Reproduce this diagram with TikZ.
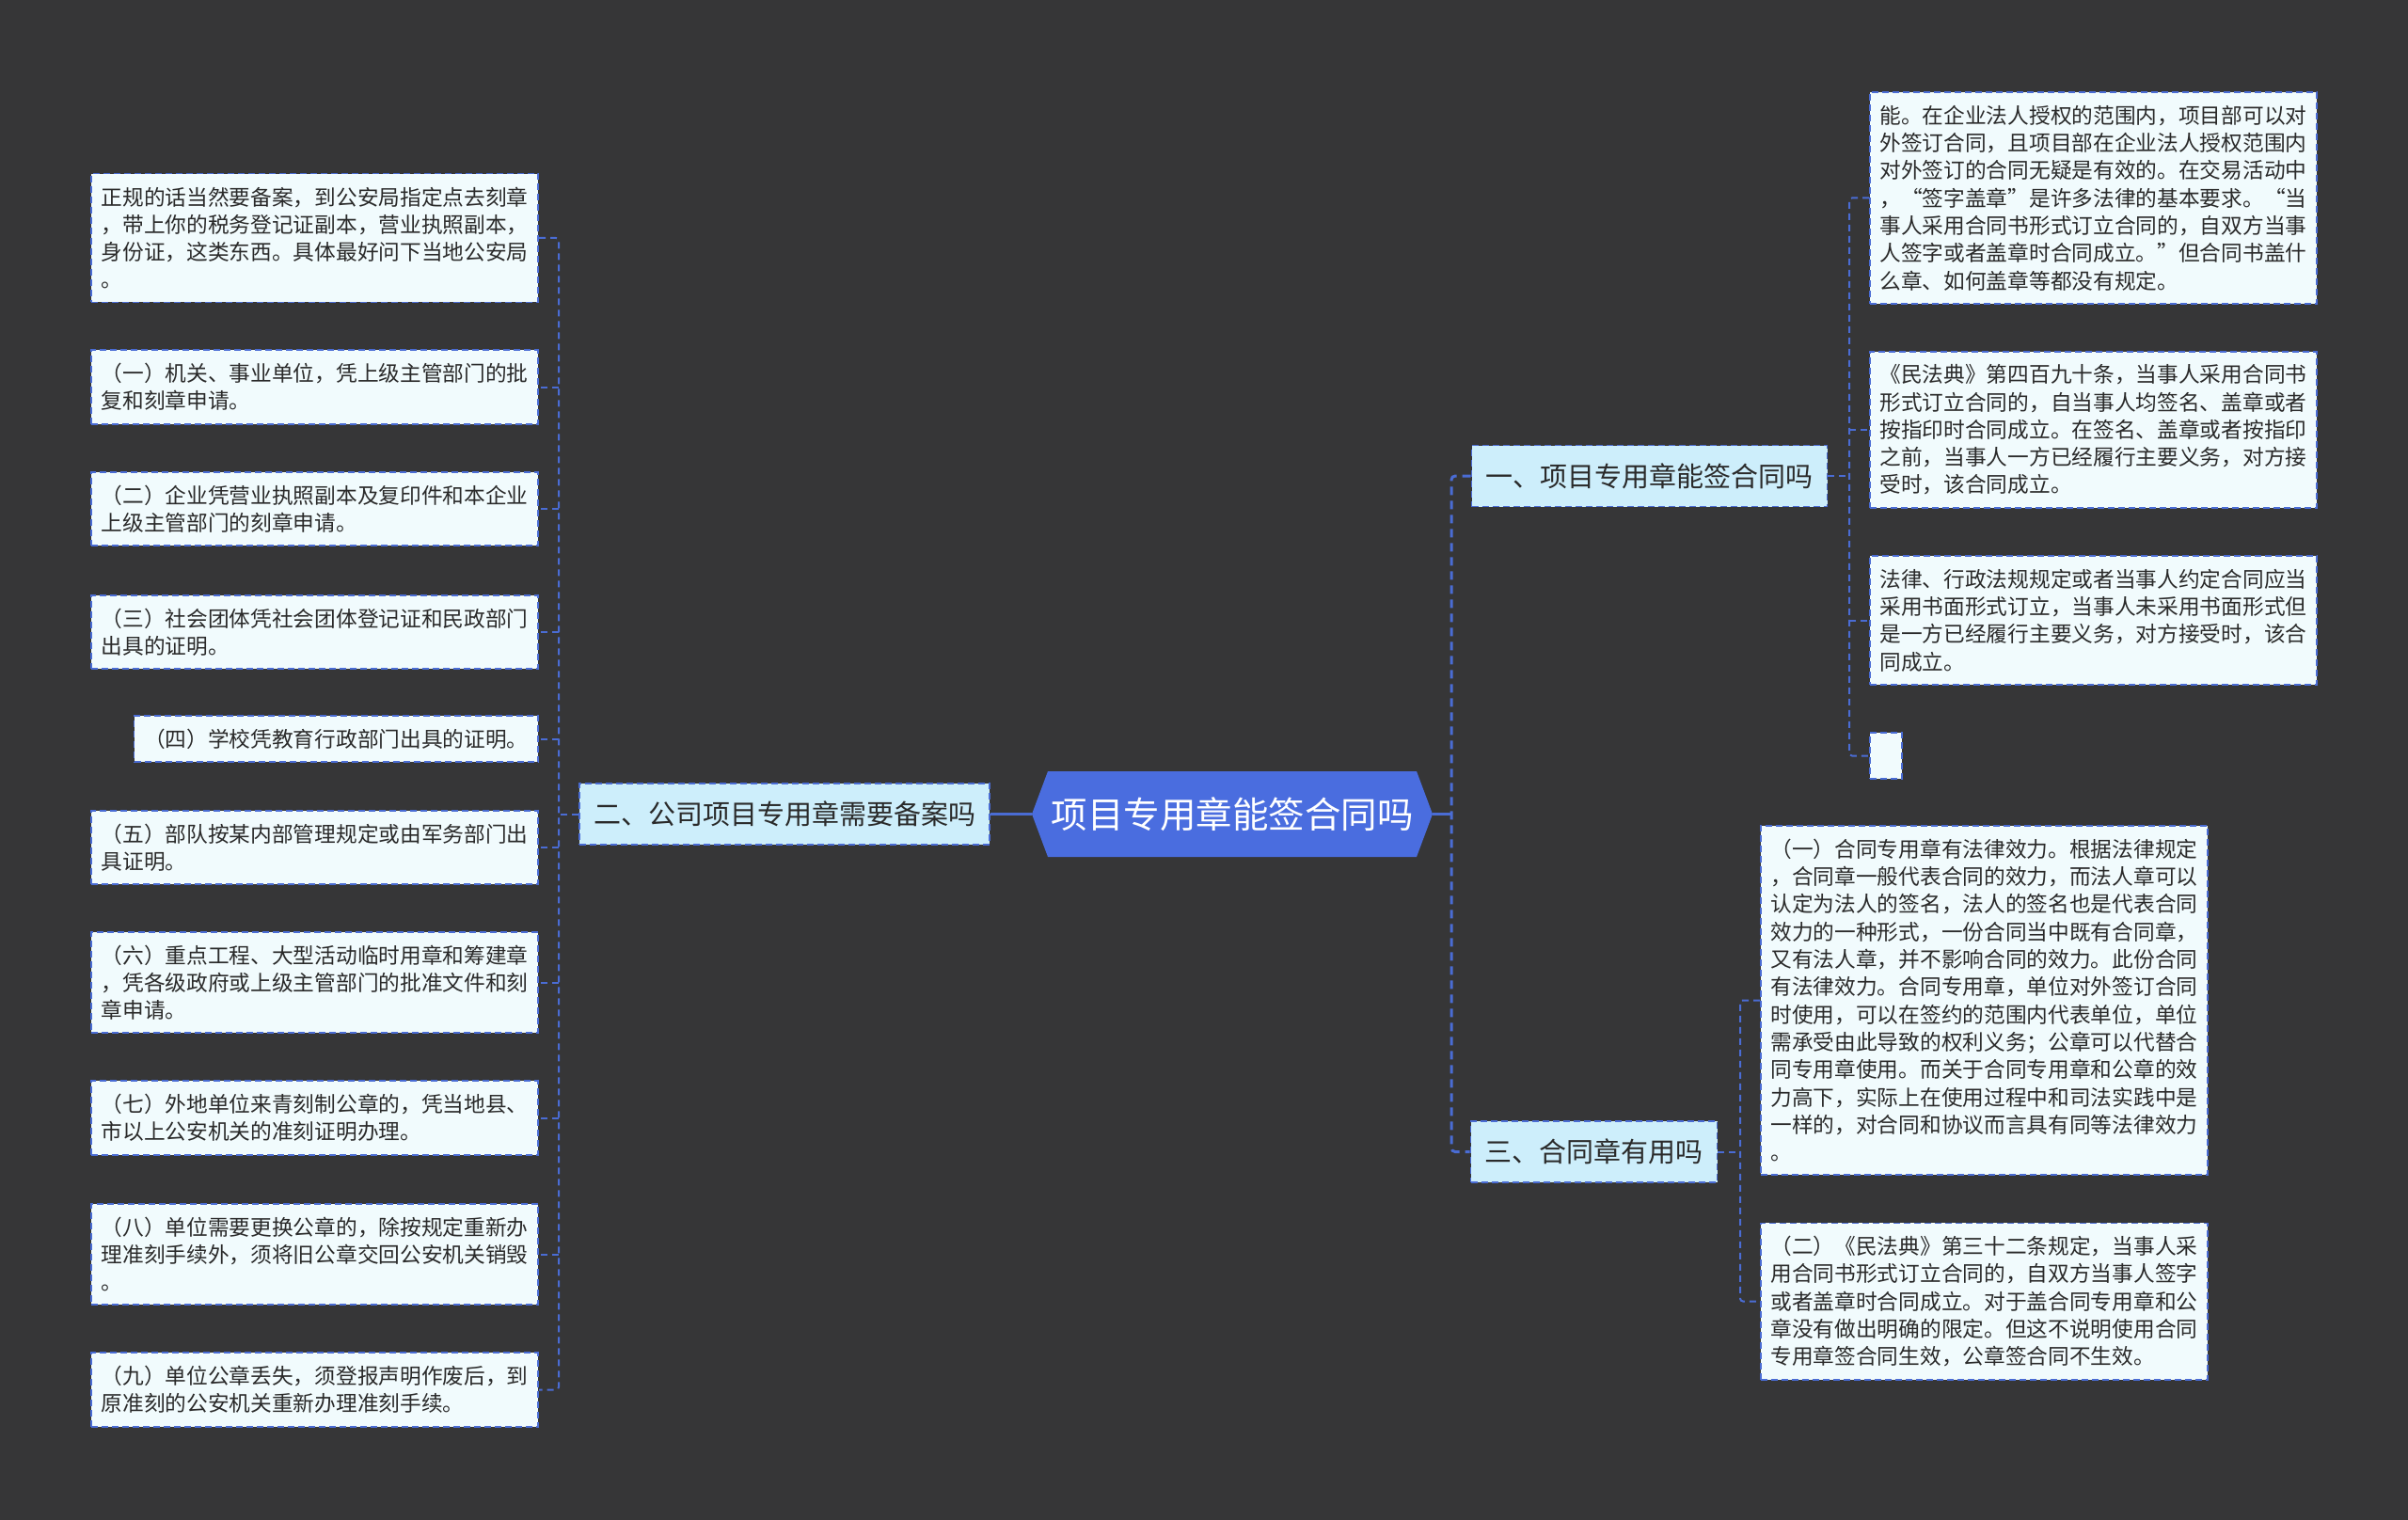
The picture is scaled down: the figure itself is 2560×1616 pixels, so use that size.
\documentclass[tikz,border=0pt]{standalone}
\usepackage{fontspec}
\setmainfont{Noto Sans CJK SC}
\definecolor{bg}{HTML}{363637}
\definecolor{edge}{HTML}{4A6CD4}
\definecolor{leaffill}{HTML}{F1FBFD}
\definecolor{branchfill}{HTML}{CDEEFB}
\definecolor{rootfill}{HTML}{4A6DDF}
\definecolor{txt}{HTML}{2A2A2A}
\newcommand\leaffont{\fontsize{22.7pt}{29.3pt}\selectfont}
\newcommand\branchfont{\fontsize{29pt}{34pt}\selectfont}
\newcommand\rootfont{\fontsize{38.5pt}{44pt}\selectfont}
\tikzset{
  leafbox/.style={draw=edge, fill=leaffill, line width=1.8pt, dash pattern=on 7pt off 4pt,
    text=txt, font=\leaffont, align=left, text width=454pt, inner xsep=10.5pt, inner ysep=4pt,
    minimum height={49pt+(#1-1)*29.3pt}},
  branchbox/.style={draw=edge, fill=branchfill, line width=1.8pt, dash pattern=on 7pt off 4pt,
    text=txt, font=\branchfont, inner xsep=15pt, minimum height=65pt},
  conn/.style={draw=edge, line width=2pt, dash pattern=on 7pt off 5pt, rounded corners=3pt},
  rootconn/.style={draw=edge, line width=3pt},
  roottrunk/.style={draw=edge, line width=3pt, dash pattern=on 9pt off 6pt, rounded corners=4pt},
}
\begin{document}
\begin{tikzpicture}[x=1pt,y=-1pt]
\fill[bg] (0,0) rectangle (2560,1616);
\useasboundingbox (0,0) rectangle (2560,1616);

% root
\coordinate (rw) at (1097,865.5);
\coordinate (re) at (1523,865.5);
\fill[rootfill] (rw) -- (1114,820) -- (1506,820) -- (re) -- (1506,911) -- (1114,911) -- cycle;
\node[text=white, font=\rootfont, minimum width=426pt, minimum height=91pt, inner sep=0pt] (root) at (1310,865.5) {项目专用章能签合同吗};

% branches
\node[branchbox] (b2) at (834,865.5) {二、公司项目专用章需要备案吗};
\node[branchbox] (b1) at (1753.5,506) {一、项目专用章能签合同吗};
\node[branchbox] (b3) at (1694.5,1224.5) {三、合同章有用吗};

% left leaves
\node[leafbox=4, anchor=east] (L0) at (573,253) {正规的话当然要备案，到公安局指定点去刻章\\，带上你的税务登记证副本，营业执照副本，\\身份证，这类东西。具体最好问下当地公安局\\。};
\node[leafbox=2, anchor=east] (L1) at (573,411.5) {（一）机关、事业单位，凭上级主管部门的批\\复和刻章申请。};
\node[leafbox=2, anchor=east] (L2) at (573,541) {（二）企业凭营业执照副本及复印件和本企业\\上级主管部门的刻章申请。};
\node[leafbox=2, anchor=east] (L3) at (573,672) {（三）社会团体凭社会团体登记证和民政部门\\出具的证明。};
\node[leafbox=1, anchor=east, text width=408.6pt] (L4) at (573,785.5) {（四）学校凭教育行政部门出具的证明。};
\node[leafbox=2, anchor=east] (L5) at (573,901) {（五）部队按某内部管理规定或由军务部门出\\具证明。};
\node[leafbox=3, anchor=east] (L6) at (573,1044.5) {（六）重点工程、大型活动临时用章和筹建章\\，凭各级政府或上级主管部门的批准文件和刻\\章申请。};
\node[leafbox=2, anchor=east] (L7) at (573,1188.5) {（七）外地单位来青刻制公章的，凭当地县、\\市以上公安机关的准刻证明办理。};
\node[leafbox=3, anchor=east] (L8) at (573,1333.5) {（八）单位需要更换公章的，除按规定重新办\\理准刻手续外，须将旧公章交回公安机关销毁\\。};
\node[leafbox=2, anchor=east] (L9) at (573,1477.5) {（九）单位公章丢失，须登报声明作废后，到\\原准刻的公安机关重新办理准刻手续。};

% right leaves of branch 1
\node[leafbox=7, anchor=west] (R0) at (1987,210.5) {能。在企业法人授权的范围内，项目部可以对\\外签订合同，且项目部在企业法人授权范围内\\对外签订的合同无疑是有效的。在交易活动中\\，“签字盖章”是许多法律的基本要求。“当\\事人采用合同书形式订立合同的，自双方当事\\人签字或者盖章时合同成立。”但合同书盖什\\么章、如何盖章等都没有规定。};
\node[leafbox=5, anchor=west] (R1) at (1987,457) {《民法典》第四百九十条，当事人采用合同书\\形式订立合同的，自当事人均签名、盖章或者\\按指印时合同成立。在签名、盖章或者按指印\\之前，当事人一方已经履行主要义务，对方接\\受时，该合同成立。};
\node[leafbox=4, anchor=west] (R2) at (1987,659.5) {法律、行政法规规定或者当事人约定合同应当\\采用书面形式订立，当事人未采用书面形式但\\是一方已经履行主要义务，对方接受时，该合\\同成立。};
\node[draw=edge, fill=leaffill, line width=1.8pt, dash pattern=on 7pt off 4pt, minimum width=34pt, minimum height=49pt, inner sep=0pt, anchor=west] (R3) at (1987,803.5) {};

% right leaves of branch 3
\node[leafbox=12, anchor=west] (R4) at (1871,1063.5) {（一）合同专用章有法律效力。根据法律规定\\，合同章一般代表合同的效力，而法人章可以\\认定为法人的签名，法人的签名也是代表合同\\效力的一种形式，一份合同当中既有合同章，\\又有法人章，并不影响合同的效力。此份合同\\有法律效力。合同专用章，单位对外签订合同\\时使用，可以在签约的范围内代表单位，单位\\需承受由此导致的权利义务；公章可以代替合\\同专用章使用。而关于合同专用章和公章的效\\力高下，实际上在使用过程中和司法实践中是\\一样的，对合同和协议而言具有同等法律效力\\。};
\node[leafbox=5, anchor=west] (R5) at (1871,1383.5) {（二）《民法典》第三十二条规定，当事人采\\用合同书形式订立合同的，自双方当事人签字\\或者盖章时合同成立。对于盖合同专用章和公\\章没有做出明确的限定。但这不说明使用合同\\专用章签合同生效，公章签合同不生效。};

% junction coordinates
\coordinate (jroot) at (1543,865.5);
\coordinate (jl) at (594,865.5);
\coordinate (jr1) at (1966,506);
\coordinate (jr3) at (1850,1224.5);

% root connectors
\draw[rootconn] (root.west) -- (b2.east);
\draw[rootconn] (root.east) -- (jroot);
\draw[roottrunk] (b1.west) -- (jroot |- b1.west) -- (jroot |- b3.west) -- (b3.west);

% left trunk
\draw[conn] (b2.west) -- (jl);
\draw[conn] (L0.east) -- (jl |- L0.east) -- (jl |- L9.east) -- (L9.east);
\foreach \n in {L1,L2,L3,L4,L5,L6,L7,L8} \draw[conn] (jl |- \n.east) -- (\n.east);

% branch 1 trunk
\draw[conn] (b1.east) -- (jr1);
\draw[conn] (R0.west) -- (jr1 |- R0.west) -- (jr1 |- R3.west) -- (R3.west);
\foreach \n in {R1,R2} \draw[conn] (jr1 |- \n.west) -- (\n.west);

% branch 3 trunk
\draw[conn] (b3.east) -- (jr3);
\draw[conn] (R4.west) -- (jr3 |- R4.west) -- (jr3 |- R5.west) -- (R5.west);
\end{tikzpicture}
\end{document}
